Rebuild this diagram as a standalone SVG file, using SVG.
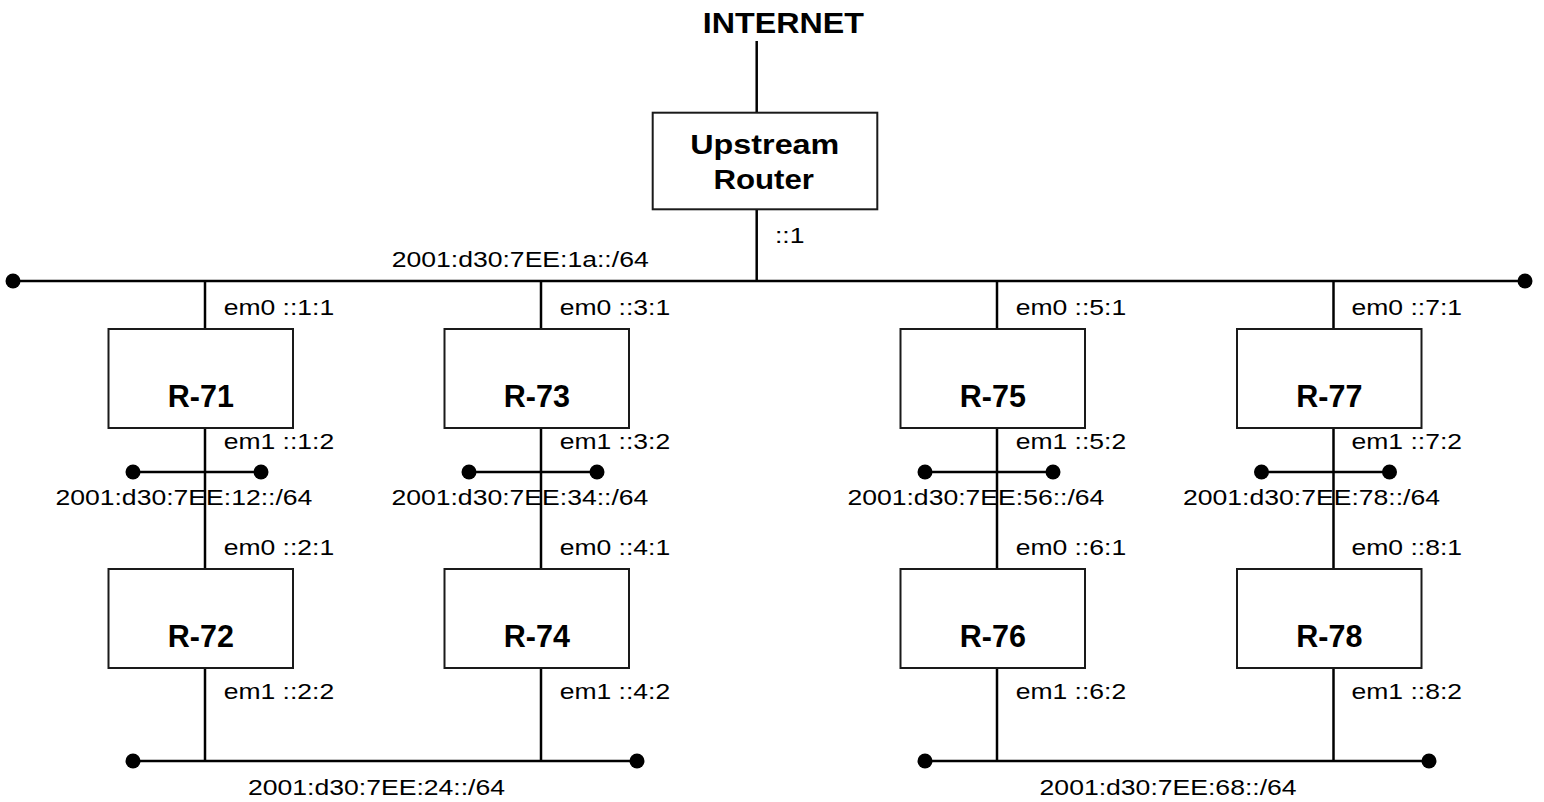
<svg xmlns="http://www.w3.org/2000/svg" width="1544" height="802" viewBox="0 0 1544 802">
<style>
  .box { fill: #ffffff; stroke: #1a1a1a; stroke-width: 2; }
  .wire { stroke: #000000; stroke-width: 2.5; fill: none; }
  .dot { fill: #000000; }
  .lbl { font-family: "Liberation Sans", Arial, Helvetica, sans-serif; font-size: 22.5px; fill: #000000; }
  .title { font-family: "Liberation Sans", Arial, Helvetica, sans-serif; font-weight: bold; fill: #000000; }
</style>
<rect x="0" y="0" width="1544" height="802" fill="#ffffff"/>

<g id="connectors">
  <!-- internet to upstream -->
  <line class="wire" x1="756.7" y1="41" x2="756.7" y2="112.7"/>
  <line class="wire" x1="756.7" y1="209.3" x2="756.7" y2="281"/>
  <!-- top bus -->
  <line class="wire" x1="13" y1="281" x2="1525" y2="281"/>
  <circle class="dot" cx="13" cy="281" r="7.5"/>
  <circle class="dot" cx="1525" cy="281" r="7.5"/>

  <!-- column verticals -->
  <line class="wire" x1="205" y1="281" x2="205" y2="329"/>
  <line class="wire" x1="205" y1="428" x2="205" y2="569"/>
  <line class="wire" x1="205" y1="668" x2="205" y2="761"/>
  <line class="wire" x1="541" y1="281" x2="541" y2="329"/>
  <line class="wire" x1="541" y1="428" x2="541" y2="569"/>
  <line class="wire" x1="541" y1="668" x2="541" y2="761"/>
  <line class="wire" x1="997" y1="281" x2="997" y2="329"/>
  <line class="wire" x1="997" y1="428" x2="997" y2="569"/>
  <line class="wire" x1="997" y1="668" x2="997" y2="761"/>
  <line class="wire" x1="1333.5" y1="281" x2="1333.5" y2="329"/>
  <line class="wire" x1="1333.5" y1="428" x2="1333.5" y2="569"/>
  <line class="wire" x1="1333.5" y1="668" x2="1333.5" y2="761"/>

  <!-- small buses -->
  <line class="wire" x1="133" y1="472" x2="261" y2="472"/>
  <circle class="dot" cx="133" cy="472" r="7.5"/>
  <circle class="dot" cx="261" cy="472" r="7.5"/>
  <line class="wire" x1="469" y1="472" x2="597" y2="472"/>
  <circle class="dot" cx="469" cy="472" r="7.5"/>
  <circle class="dot" cx="597" cy="472" r="7.5"/>
  <line class="wire" x1="925" y1="472" x2="1053" y2="472"/>
  <circle class="dot" cx="925" cy="472" r="7.5"/>
  <circle class="dot" cx="1053" cy="472" r="7.5"/>
  <line class="wire" x1="1261.5" y1="472" x2="1389.5" y2="472"/>
  <circle class="dot" cx="1261.5" cy="472" r="7.5"/>
  <circle class="dot" cx="1389.5" cy="472" r="7.5"/>

  <!-- bottom buses -->
  <line class="wire" x1="133" y1="761" x2="637" y2="761"/>
  <circle class="dot" cx="133" cy="761" r="7.5"/>
  <circle class="dot" cx="637" cy="761" r="7.5"/>
  <line class="wire" x1="925" y1="761" x2="1429" y2="761"/>
  <circle class="dot" cx="925" cy="761" r="7.5"/>
  <circle class="dot" cx="1429" cy="761" r="7.5"/>

  <!-- network labels -->
  <text class="lbl" x="391.7" y="266.7" textLength="257" lengthAdjust="spacingAndGlyphs">2001:d30:7EE:1a::/64</text>
  <text class="lbl" x="55.4" y="505" textLength="257" lengthAdjust="spacingAndGlyphs">2001:d30:7EE:12::/64</text>
  <text class="lbl" x="391.4" y="505" textLength="257" lengthAdjust="spacingAndGlyphs">2001:d30:7EE:34::/64</text>
  <text class="lbl" x="847.4" y="505" textLength="257" lengthAdjust="spacingAndGlyphs">2001:d30:7EE:56::/64</text>
  <text class="lbl" x="1183" y="505" textLength="257" lengthAdjust="spacingAndGlyphs">2001:d30:7EE:78::/64</text>
  <text class="lbl" x="248" y="795" textLength="257" lengthAdjust="spacingAndGlyphs">2001:d30:7EE:24::/64</text>
  <text class="lbl" x="1039.6" y="795" textLength="257" lengthAdjust="spacingAndGlyphs">2001:d30:7EE:68::/64</text>

  <!-- interface labels -->
  <text class="lbl" x="775" y="243.3" textLength="29.5" lengthAdjust="spacingAndGlyphs">::1</text>

  <text class="lbl" x="223.7" y="314.5" textLength="110.5" lengthAdjust="spacingAndGlyphs">em0 ::1:1</text>
  <text class="lbl" x="223.7" y="449.3" textLength="110.5" lengthAdjust="spacingAndGlyphs">em1 ::1:2</text>
  <text class="lbl" x="223.7" y="555" textLength="110.5" lengthAdjust="spacingAndGlyphs">em0 ::2:1</text>
  <text class="lbl" x="223.7" y="699.3" textLength="110.5" lengthAdjust="spacingAndGlyphs">em1 ::2:2</text>

  <text class="lbl" x="559.7" y="314.5" textLength="110.5" lengthAdjust="spacingAndGlyphs">em0 ::3:1</text>
  <text class="lbl" x="559.7" y="449.3" textLength="110.5" lengthAdjust="spacingAndGlyphs">em1 ::3:2</text>
  <text class="lbl" x="559.7" y="555" textLength="110.5" lengthAdjust="spacingAndGlyphs">em0 ::4:1</text>
  <text class="lbl" x="559.7" y="699.3" textLength="110.5" lengthAdjust="spacingAndGlyphs">em1 ::4:2</text>

  <text class="lbl" x="1015.7" y="314.5" textLength="110.5" lengthAdjust="spacingAndGlyphs">em0 ::5:1</text>
  <text class="lbl" x="1015.7" y="449.3" textLength="110.5" lengthAdjust="spacingAndGlyphs">em1 ::5:2</text>
  <text class="lbl" x="1015.7" y="555" textLength="110.5" lengthAdjust="spacingAndGlyphs">em0 ::6:1</text>
  <text class="lbl" x="1015.7" y="699.3" textLength="110.5" lengthAdjust="spacingAndGlyphs">em1 ::6:2</text>

  <text class="lbl" x="1351.5" y="314.5" textLength="110.5" lengthAdjust="spacingAndGlyphs">em0 ::7:1</text>
  <text class="lbl" x="1351.5" y="449.3" textLength="110.5" lengthAdjust="spacingAndGlyphs">em1 ::7:2</text>
  <text class="lbl" x="1351.5" y="555" textLength="110.5" lengthAdjust="spacingAndGlyphs">em0 ::8:1</text>
  <text class="lbl" x="1351.5" y="699.3" textLength="110.5" lengthAdjust="spacingAndGlyphs">em1 ::8:2</text>
</g>

<g id="internet">
  <text class="title" x="702.8" y="33.3" font-size="29" textLength="161" lengthAdjust="spacingAndGlyphs">INTERNET</text>
</g>

<g id="upstream-router">
  <rect class="box" x="652.7" y="112.7" width="224.6" height="96.6"/>
  <text class="title" x="690.3" y="154" font-size="27" textLength="149" lengthAdjust="spacingAndGlyphs">Upstream</text>
  <text class="title" x="713.4" y="189.3" font-size="27" textLength="100.6" lengthAdjust="spacingAndGlyphs">Router</text>
</g>

<g id="R-71">
  <rect class="box" x="108.5" y="329" width="184.5" height="99"/>
  <text class="title" x="200.8" y="407" font-size="30.5" text-anchor="middle">R-71</text>
</g>
<g id="R-72">
  <rect class="box" x="108.5" y="569" width="184.5" height="99"/>
  <text class="title" x="200.8" y="647" font-size="30.5" text-anchor="middle">R-72</text>
</g>
<g id="R-73">
  <rect class="box" x="444.5" y="329" width="184.5" height="99"/>
  <text class="title" x="536.8" y="407" font-size="30.5" text-anchor="middle">R-73</text>
</g>
<g id="R-74">
  <rect class="box" x="444.5" y="569" width="184.5" height="99"/>
  <text class="title" x="536.8" y="647" font-size="30.5" text-anchor="middle">R-74</text>
</g>
<g id="R-75">
  <rect class="box" x="900.5" y="329" width="184.5" height="99"/>
  <text class="title" x="992.8" y="407" font-size="30.5" text-anchor="middle">R-75</text>
</g>
<g id="R-76">
  <rect class="box" x="900.5" y="569" width="184.5" height="99"/>
  <text class="title" x="992.8" y="647" font-size="30.5" text-anchor="middle">R-76</text>
</g>
<g id="R-77">
  <rect class="box" x="1237" y="329" width="184.5" height="99"/>
  <text class="title" x="1329.3" y="407" font-size="30.5" text-anchor="middle">R-77</text>
</g>
<g id="R-78">
  <rect class="box" x="1237" y="569" width="184.5" height="99"/>
  <text class="title" x="1329.3" y="647" font-size="30.5" text-anchor="middle">R-78</text>
</g>
</svg>
